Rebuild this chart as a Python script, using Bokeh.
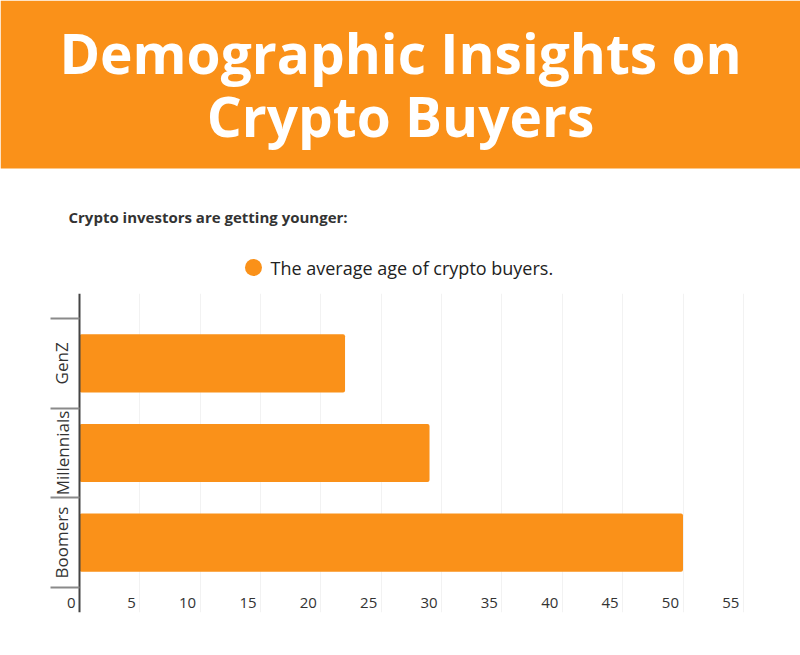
from bokeh.plotting import figure
from bokeh.layouts import column
from bokeh.models import Range1d, FixedTicker, LinearAxis, Grid, ColumnDataSource
from bokeh.core.properties import value
from bokeh.embed import file_html
from bokeh.resources import INLINE

# ---- data ----
categories = ["GenZ", "Millennials", "Boomers"]
positions = [1, 2, 3]
ages = [22, 29, 50]
x_ticks = [0, 5, 10, 15, 20, 25, 30, 35, 40, 45, 50, 55]
x_tick_labels = ["0", "5", "10", "15", "20", "25", "30", "35", "40", "45", "50", "55"]
title_lines = ["Demographic Insights on", "Crypto Buyers"]
subtitle = "Crypto investors are getting younger:"
series_name = "The average age of crypto buyers."

ORANGE = "#FA9119"
FONT = "Open Sans"

# ---- header (title band, subtitle, legend) ----
HW, HH = 800, 280
hdr = figure(width=HW, height=HH, x_range=Range1d(0, HW), y_range=Range1d(0, HH),
             output_backend="svg", toolbar_location=None,
             x_axis_location=None, y_axis_location=None,
             min_border=0, outline_line_color=None, frame_align=False,
             background_fill_color="white", border_fill_color="white")
hdr.xgrid.visible = False
hdr.ygrid.visible = False
hdr.quad(left=[0], right=[HW], bottom=[HH - 168], top=[HH], fill_color=ORANGE, line_color=None)
hdr.text(x=[400, 400], y=[HH - 52, HH - 115], text=title_lines,
         text_font=value(FONT), text_font_style="bold", text_font_size="55px",
         text_color="white", text_align="center", text_baseline="middle")
hdr.text(x=[68], y=[HH - 216], text=[subtitle],
         text_font=value(FONT), text_font_style="bold", text_font_size="15px",
         text_color="#333333", text_align="left", text_baseline="middle")
# legend entry
hdr.scatter(x=[253], y=[HH - 267], marker="circle", size=17, fill_color=ORANGE, line_color=None)
hdr.text(x=[270], y=[HH - 267], text=[series_name],
         text_font=value(FONT), text_font_size="18px", text_color="#222222",
         text_align="left", text_baseline="middle")

# ---- chart ----
PX_PER_UNIT = 12.07
LEFT_BORDER, AXIS_X, RIGHT_BORDER = 45, 79, 45
x_start = -(AXIS_X - LEFT_BORDER) / PX_PER_UNIT
x_end = x_start + (800 - LEFT_BORDER - RIGHT_BORDER) / PX_PER_UNIT
p = figure(width=800, height=655 - HH, x_range=Range1d(x_start, x_end),
           y_range=Range1d(3.78, 0.22),
           output_backend="svg", toolbar_location=None,
           x_axis_location=None, y_axis_location=None, frame_align=False,
           min_border_left=LEFT_BORDER, min_border_right=RIGHT_BORDER,
           min_border_top=13, min_border_bottom=43,
           outline_line_color=None, background_fill_color="white", border_fill_color="white")
p.center = [r for r in p.center if not isinstance(r, Grid)]

xgrid = Grid(dimension=0, ticker=FixedTicker(ticks=x_ticks[1:]), grid_line_color="#F2F2F2",
             grid_line_width=1)
p.add_layout(xgrid, "center")

src = ColumnDataSource(dict(y=positions, right=ages, cat=categories))
p.hbar(y="y", right="right", left=0, height=0.65, source=src,
       fill_color=ORANGE, line_color=None, border_radius=2)

# x tick labels, drawn inside the plot area as in the reference
p.text(x=x_ticks, y=[3.67] * len(x_ticks), text=x_tick_labels,
       text_font=value(FONT), text_font_size="15px", text_color="#333333",
       text_align="right", text_baseline="middle", x_offset=-4)

yaxis = LinearAxis(ticker=FixedTicker(ticks=positions, minor_ticks=[0.5, 1.5, 2.5, 3.5]),
                   fixed_location=0,
                   major_label_overrides={pos: c for pos, c in zip(positions, categories)},
                   major_label_orientation="vertical",
                   major_label_text_font=FONT, major_label_text_font_size="17px",
                   major_label_text_color="#333333", major_label_standoff=-23,
                   major_tick_out=0, major_tick_in=0,
                   minor_tick_out=29, minor_tick_in=0, minor_tick_line_color="#8A8A8A",
                   minor_tick_line_width=2,
                   axis_line_color="#444444", axis_line_width=2)
p.add_layout(yaxis, "left")

layout = column(hdr, p, spacing=0)
open("out.html", "w").write(file_html(layout, INLINE))
